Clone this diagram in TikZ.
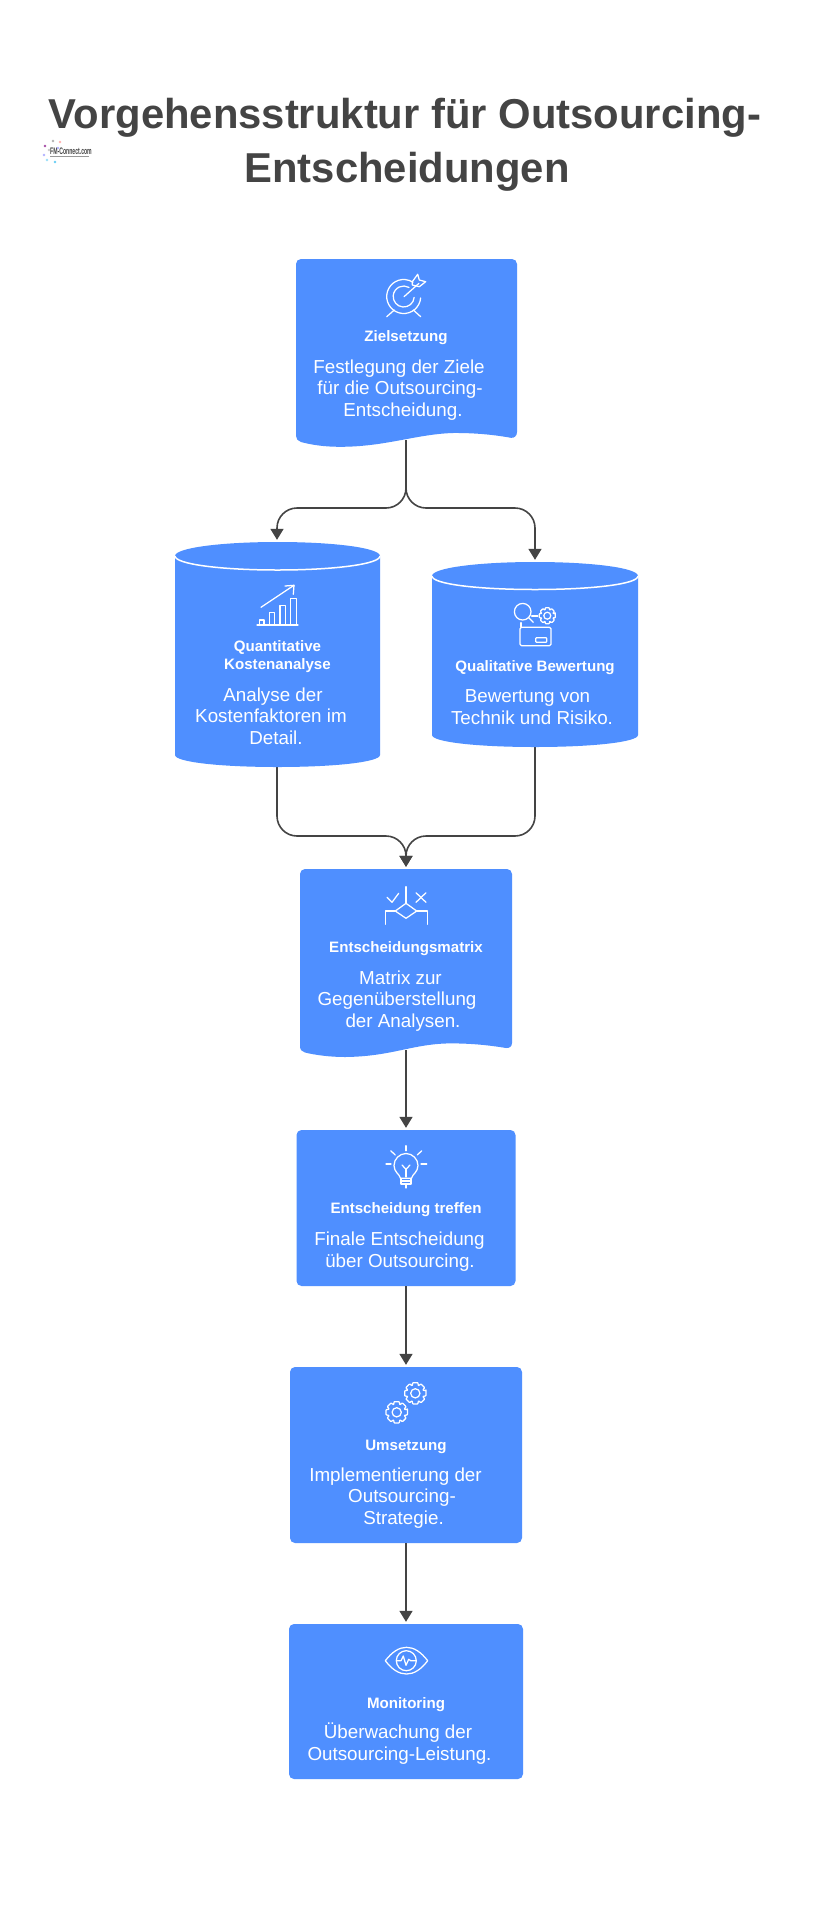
\documentclass[tikz,border=0pt]{standalone}
\usepackage{fontspec}
\usepackage{graphicx}
\setmainfont{Liberation Sans}
\usetikzlibrary{arrows.meta}
\definecolor{fmblue}{HTML}{4F8FFF}
\definecolor{fmdark}{HTML}{444444}
\newcommand{\tr}[1]{\rule{#1pt}{0pt}}
\newcommand{\gearicon}[3]{%
  \begin{scope}[shift={(#1,#2)}]
    \draw[iconline,rounded corners=0.7pt] (-14:#3)
      \foreach \a in {0,45,...,315} { -- (\a-14:#3) -- (\a+14:#3) -- (\a+20:#3*0.78) -- (\a+25:#3*0.78) } -- cycle;
    \draw[iconline] (0,0) circle[radius=#3*0.42];
  \end{scope}}
\tikzset{
  x=1pt,y=-1pt,
  titletext/.style={font=\fontsize{41.8}{54}\selectfont\bfseries,text=fmdark,align=center,inner sep=0pt,anchor=base},
  headtext/.style={font=\fontsize{15.1}{17.8}\selectfont\bfseries,text=white,align=center,inner sep=0pt,anchor=base},
  bodytext/.style={font=\fontsize{18.8}{21.4}\selectfont,text=white,align=center,inner sep=0pt,anchor=base},
  flowbox/.style={fill=fmblue,rounded corners=5pt,inner sep=0pt},
  shapeanchor/.style={inner sep=0pt},
  iconline/.style={draw=white,line width=1.25pt,line cap=round,line join=round},
  conn/.style={draw=fmdark,line width=1.6pt,shorten >=2pt,-{Triangle[width=13pt,length=11pt]}},
}
\begin{document}
\begin{tikzpicture}
\useasboundingbox (0,0) rectangle (812,1920);
\fill[white] (0,0) rectangle (812,1920);

% title
\node[titletext] (title) at (405,128) {Vorgehensstruktur für Outsourcing-};
\node[titletext] (title2) at (407,182) {Entscheidungen};

% logo
\node[inner sep=0pt,anchor=base west,text=fmdark,font=\fontsize{9.5}{10}\selectfont\bfseries] (logo) at (50,154) {\scalebox{.54}[1]{FM-Connect.com}};
\draw[fmdark!55,line width=0.9pt] (50,156.5) -- (89,156.5);
\foreach \px/\py/\pc in {53/141/gray!60,60/142/red!30,45/146/violet!70,44/155/blue!30,47/160/cyan!40,55/162/cyan!60,49/150/gray!40,58/148/blue!30}
  \fill[\pc] (\px,\py) circle[radius=1.3];

% shape anchors (shapes are drawn above them)
\node[shapeanchor,minimum width=222pt,minimum height=181pt] (ziel) at (406,349.5) {};
\node[shapeanchor,minimum width=205pt,minimum height=225pt] (quant) at (277,654.5) {};
\node[shapeanchor,minimum width=206pt,minimum height=185pt] (qual) at (535,654.5) {};
\node[shapeanchor,minimum width=212pt,minimum height=181pt] (matrix) at (406,959.5) {};

% connectors
\coordinate (split) at (406,508);
\coordinate (merge) at (406,836);
\draw[conn,rounded corners=20pt] (ziel.south) -- (split) -| (quant.north);
\draw[conn,rounded corners=20pt] (ziel.south) -- (split) -| (qual.north);
\draw[conn,rounded corners=20pt] (quant.south) |- (merge) -- (matrix.north);
\draw[conn,rounded corners=20pt] (qual.south) |- (merge) -- (matrix.north);

% document shapes
\fill[fmblue] (296,264) arc[start angle=180,end angle=270,x radius=5,y radius=5] -- (512,259)
  arc[start angle=270,end angle=360,x radius=5,y radius=5] -- (517,432) .. controls (517,436) and (514,438.3) .. (511,437.8)
  .. controls (490,434) and (470,432.8) .. (452,433) .. controls (415,434.5) and (385,446.8) .. (340,446.8)
  .. controls (325,446.8) and (312,445) .. (301,442) .. controls (298,441) and (296,439) .. (296,436) -- cycle;
\fill[fmblue] (300,874) arc[start angle=180,end angle=270,x radius=5,y radius=5] -- (507,869)
  arc[start angle=270,end angle=360,x radius=5,y radius=5] -- (512,1043) .. controls (512,1046.5) and (509,1048.5) .. (506,1048)
  .. controls (485,1044.5) and (465,1043) .. (445,1043.5) .. controls (410,1045) and (390,1056.5) .. (345,1057)
  .. controls (330,1057) and (315,1055) .. (305,1052.5) .. controls (302,1051.5) and (300,1050) .. (300,1046) -- cycle;

% cylinders
\fill[fmblue] (175,556) .. controls (175,548) and (220,542) .. (277.5,542) .. controls (335,542) and (380,548) .. (380,556)
  -- (380,755) .. controls (380,762) and (335,767) .. (277.5,767) .. controls (220,767) and (175,762) .. (175,755) -- cycle;
\draw[white,line width=1.5pt] (175,556) .. controls (175,564) and (220,570) .. (277.5,570) .. controls (335,570) and (380,564) .. (380,556);
\fill[fmblue] (432,576) .. controls (432,568) and (477,562) .. (535,562) .. controls (593,562) and (638,568) .. (638,576)
  -- (638,735) .. controls (638,742) and (593,747) .. (535,747) .. controls (477,747) and (432,742) .. (432,735) -- cycle;
\draw[white,line width=1.5pt] (432,576) .. controls (432,584) and (477,589.5) .. (535,589.5) .. controls (593,589.5) and (638,584) .. (638,576);

% plain boxes
\node[flowbox,minimum width=219pt,minimum height=156pt] (treffen) at (406,1208) {};
\node[flowbox,minimum width=232pt,minimum height=176pt] (umsetz) at (406,1455) {};
\node[flowbox,minimum width=234pt,minimum height=155pt] (monitor) at (406,1701.5) {};
\draw[conn] (matrix.south) -- (treffen.north);
\draw[conn] (treffen.south) -- (umsetz.north);
\draw[conn] (umsetz.south) -- (monitor.north);

% texts (anchored on the baseline of the last line)
\node[headtext] (zielh) at (406,341.7) {Zielsetzung};
\node[bodytext] (zielb) at (406,416) {Festlegung der Ziele\tr{14}\\für die Outsourcing-\tr{12}\\Entscheidung.\tr{6}};
\node[headtext] (quanth) at (277.5,669.5) {Quantitative\\Kostenanalyse};
\node[bodytext] (quantb) at (277.5,744) {Analyse der\tr{9}\\Kostenfaktoren im\tr{13}\\Detail.\tr{3}};
\node[headtext] (qualh) at (535,671) {Qualitative Bewertung};
\node[bodytext] (qualb) at (535,724) {Bewertung von\tr{15}\\Technik und Risiko.\tr{6}};
\node[headtext] (matrixh) at (406,952) {Entscheidungsmatrix};
\node[bodytext] (matrixb) at (406,1027) {Matrix zur\tr{11}\\Gegenüberstellung\tr{18}\\der Analysen.\tr{6}};
\node[headtext] (treffenh) at (406,1213) {Entscheidung treffen};
\node[bodytext] (treffenb) at (406,1267) {Finale Entscheidung\tr{13}\\über Outsourcing.\tr{12}};
\node[headtext] (umsetzh) at (406,1450) {Umsetzung};
\node[bodytext] (umsetzb) at (406,1524) {Implementierung der\tr{21}\\Outsourcing-\tr{8}\\Strategie.\tr{5}};
\node[headtext] (monitorh) at (406,1708) {Monitoring};
\node[bodytext] (monitorb) at (406,1760) {Überwachung der\tr{16}\\Outsourcing-Leistung.\tr{13}};

% icon: target
\begin{scope}[shift={(403.7,296.5)}]
  \draw[iconline] (5:17) arc[start angle=5,end angle=303,radius=17];
  \draw[iconline] (5:10.5) arc[start angle=5,end angle=300,radius=10.5];
\end{scope}
\draw[iconline] (404,296.7) -- (419,283.3);
\draw[iconline] (412.3,281.7) -- (417.7,274.3) -- (419.3,280) -- (425.7,281.7) -- (419.3,286.7) -- (412.3,285) -- cycle;
\draw[iconline] (394.3,310) -- (386.7,316.7);
\draw[iconline] (413.3,310) -- (420.7,316.7);

% icon: chart
\draw[iconline] (257,625) -- (298,625);
\draw[iconline] (259.3,625) -- (259.3,620) -- (264,620) -- (264,625);
\draw[iconline] (269.3,625) -- (269.3,612.7) -- (274.3,612.7) -- (274.3,625);
\draw[iconline] (280,625) -- (280,605.3) -- (285.7,605.3) -- (285.7,625);
\draw[iconline] (290.7,625) -- (290.7,598.3) -- (296.7,598.3) -- (296.7,625);
\draw[iconline] (261,607.3) -- (294,585.3);
\draw[iconline] (285,586) -- (294,585.3) -- (293.3,594.3);

% icon: review
\draw[iconline] (522.7,611.7) circle[radius=8.3];
\draw[iconline] (528.6,617.6) -- (533.3,622.3);
\draw[iconline] (531.7,616) -- (537.7,616);
\gearicon{547.3}{615.7}{8.3}
\draw[iconline,rounded corners=1.5pt] (520,627.3) rectangle (551,645.7);
\draw[iconline] (521,622.7) -- (521,627.3);
\draw[iconline,rounded corners=0.8pt] (535.7,637.7) rectangle (546.7,642.3);

% icon: decision
\draw[iconline] (406,886.7) -- (406,903.3);
\draw[iconline] (406,903.3) -- (416.7,911) -- (406,918.3) -- (395.3,911) -- cycle;
\draw[iconline] (395.3,911) -- (385.3,911) -- (385.3,924.3);
\draw[iconline] (416.7,911) -- (427.3,911) -- (427.3,924.3);
\draw[iconline] (387,897.3) -- (392,902.3) -- (398.7,893.3);
\draw[iconline] (416,892.7) -- (426,902.3);
\draw[iconline] (426,892.7) -- (416,902.3);

% icon: bulb
\draw[iconline] (400.5,1178.3) .. controls (399.5,1174) and (394,1172) .. (394,1165.5) .. controls (394,1159) and (399.5,1153.5) .. (406,1153.5) .. controls (412.5,1153.5) and (418,1159) .. (418,1165.5) .. controls (418,1172) and (412.5,1174) .. (411.5,1178.3) -- cycle;
\draw[iconline] (401,1178.3) -- (401,1184) -- (411,1184) -- (411,1178.3);
\draw[iconline] (401,1181) -- (411,1181);
\draw[iconline] (406,1184) -- (406,1188);
\draw[iconline] (402,1165) -- (406,1169.3) -- (410,1165);
\draw[iconline] (406,1169.3) -- (406,1177);
\draw[iconline] (406,1145.7) -- (406,1150.7);
\draw[iconline] (386,1164) -- (391,1164);
\draw[iconline] (421,1164) -- (426.7,1164);
\draw[iconline] (390.7,1150.7) -- (395.3,1155);
\draw[iconline] (421.7,1150.7) -- (417.3,1155);

% icon: gears
\gearicon{415.3}{1393.3}{11}
\gearicon{396.7}{1412.3}{11}

% icon: eye
\draw[iconline] (385.3,1660.7) .. controls (392,1652) and (399,1647.3) .. (406.5,1647.3) .. controls (414,1647.3) and (421,1652) .. (427.7,1660.7) .. controls (421,1669.5) and (414,1674) .. (406.5,1674) .. controls (399,1674) and (392,1669.5) .. (385.3,1660.7) -- cycle;
\draw[iconline] (406.3,1660.7) circle[radius=10];
\draw[iconline] (396.7,1660.7) -- (401,1660.7) -- (403.3,1656) -- (406,1665.3) -- (408.7,1659.3) -- (410.7,1660.7) -- (415.7,1660.7);
\end{tikzpicture}
\end{document}
